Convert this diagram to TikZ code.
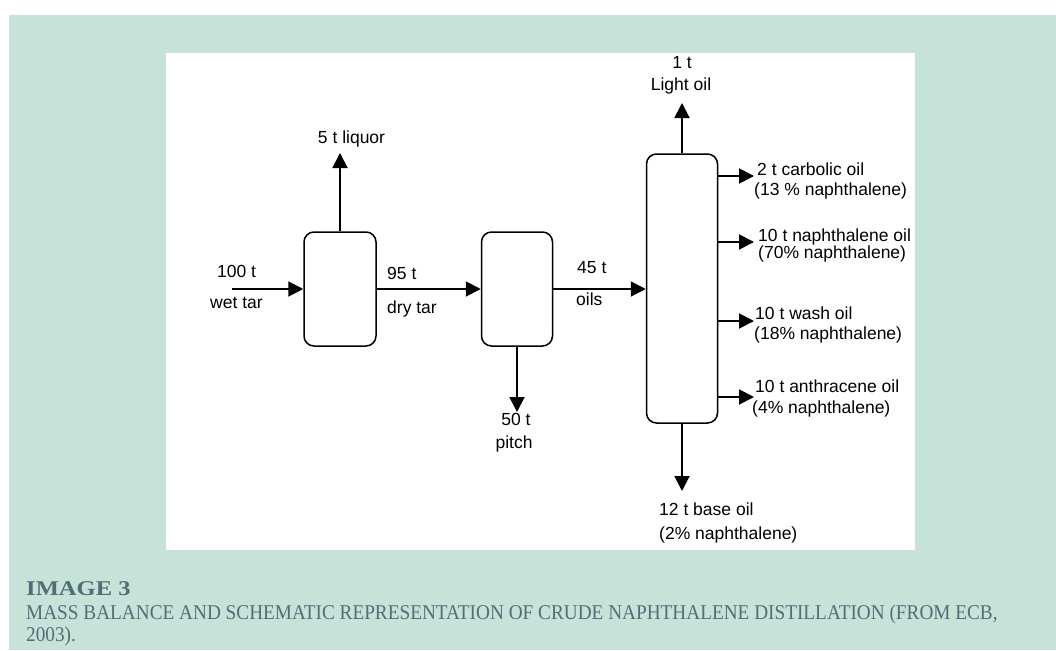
\documentclass[tikz,border=0pt]{standalone}
\usepackage{fontspec}
\setmainfont{Liberation Serif}
\newfontfamily\diagfont{Liberation Sans}
\usetikzlibrary{arrows.meta}
\definecolor{bggreen}{HTML}{C7E2D9}
\definecolor{captxt}{HTML}{4F6F78}
\begin{document}
\begin{tikzpicture}[x=1pt,y=-1pt,
  unitbox/.style={draw, line width=1.5pt, rounded corners=10pt, inner sep=0pt},
  flow/.style={line width=1.9pt, -{Triangle[length=15pt,width=15pt]}},
  lbl/.style={font=\diagfont\fontsize{17.5}{19}\selectfont, inner sep=0pt, text=black},
  captext/.style={font=\fontsize{21}{23}\selectfont, inner sep=0pt, text=captxt, anchor=base west},
]
\useasboundingbox (0,0) rectangle (1056,650);
\fill[white] (0,0) rectangle (1056,650);
\fill[bggreen] (9,15) rectangle (1056,650);
\fill[white] (166,53) rectangle (915,550);

% units
\node[unitbox, minimum width=72pt, minimum height=114pt] (sep) at (340,289) {};
\node[unitbox, minimum width=71pt, minimum height=114pt] (still) at (517,289) {};
\node[unitbox, minimum width=71pt, minimum height=269pt] (col) at (682,288.5) {};

% free ends
\coordinate (wetin) at (232,289);
\coordinate (liq) at (340,153);
\coordinate (pitchend) at (517,412);
\coordinate (lightend) at (682,103);
\coordinate (baseend) at (682,491);
\coordinate (s1) at (754,176);
\coordinate (s2) at (754,242);
\coordinate (s3) at (754,321);
\coordinate (s4) at (754,397);

% flows
\draw[flow] (wetin) -- (wetin -| sep.west);
\draw[flow] (sep.north) -- (sep.north |- liq);
\draw[flow] (sep.east) -- (still.west);
\draw[flow] (still.south) -- (still.south |- pitchend);
\draw[flow] (still.east) -- (still.east -| col.west);
\draw[flow] (col.north) -- (col.north |- lightend);
\draw[flow] (col.south) -- (col.south |- baseend);
\draw[flow] (s1 -| col.east) -- (s1);
\draw[flow] (s2 -| col.east) -- (s2);
\draw[flow] (s3 -| col.east) -- (s3);
\draw[flow] (s4 -| col.east) -- (s4);

% labels
\node[lbl, anchor=base] (lliq) at (351.5,143) {5 t liquor};
\node[lbl, anchor=base west] (l100) at (217,277) {100 t};
\node[lbl, anchor=base west] (lwet) at (210,308) {wet tar};
\node[lbl, anchor=base west] (l95) at (387,279) {95 t};
\node[lbl, anchor=base west] (ldry) at (387,313) {dry tar};
\node[lbl, anchor=base west] (l45) at (577,273) {45 t};
\node[lbl, anchor=base west] (loils) at (576,305) {oils};
\node[lbl, anchor=base] (l50) at (516,425) {50 t};
\node[lbl, anchor=base] (lpitch) at (514,448) {pitch};
\node[lbl, anchor=base] (l1) at (682,69) {1 t};
\node[lbl, anchor=base] (llight) at (681,91) {Light oil};
\node[lbl, anchor=base west] (lcarb) at (757,175) {2 t carbolic oil};
\node[lbl, anchor=base west] (lcarbp) at (754,195) {(13 \% naphthalene)};
\node[lbl, anchor=base west] (lnaph) at (758,241) {10 t naphthalene oil};
\node[lbl, anchor=base west] (lnaphp) at (758,258) {(70\% naphthalene)};
\node[lbl, anchor=base west] (lwash) at (755,319) {10 t wash oil};
\node[lbl, anchor=base west] (lwashp) at (754,339) {(18\% naphthalene)};
\node[lbl, anchor=base west] (lanth) at (755,392) {10 t anthracene oil};
\node[lbl, anchor=base west] (lanthp) at (752,413) {(4\% naphthalene)};
\node[lbl, anchor=base west] (lbase) at (659,515) {12 t base oil};
\node[lbl, anchor=base west] (lbasep) at (659,539) {(2\% naphthalene)};

% caption
\node[captext, font=\bfseries\fontsize{21}{23}\selectfont] (ctitle) at (26,595) {\scalebox{1.17}[1]{IMAGE 3}};
\node[captext] (cl1) at (26,619) {\scalebox{0.917}[1]{MASS BALANCE AND SCHEMATIC REPRESENTATION OF CRUDE NAPHTHALENE DISTILLATION (FROM ECB,}};
\node[captext] (cl2) at (26,641) {\scalebox{0.917}[1]{2003).}};
\end{tikzpicture}
\end{document}
